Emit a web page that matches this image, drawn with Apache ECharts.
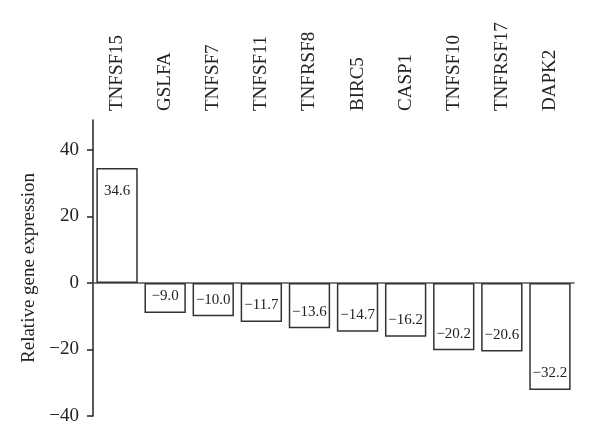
<!DOCTYPE html>
<html><head><meta charset="utf-8">
<script src="https://cdn.jsdelivr.net/npm/echarts@6/dist/echarts.min.js"></script>
<style>html,body{margin:0;padding:0;background:#fff}#c{width:600px;height:443px}</style>
</head><body><div id="c"></div>
<script>
const categories = ['TNFSF15','GSLFA','TNFSF7','TNFSF11','TNFRSF8','BIRC5','CASP1','TNFSF10','TNFRSF17','DAPK2'];
const values = [34.6, -9.0, -10.0, -11.7, -13.6, -14.7, -16.2, -20.2, -20.6, -32.2];
const yTicks = [-40, -20, 0, 20, 40];
const yName = 'Relative gene expression';

const font = '"Liberation Serif", "DejaVu Serif", serif';
const chart = echarts.init(document.getElementById('c'), null, {renderer: 'canvas'});
const data = values.map(v => ({
  value: v,
  label: v >= 0 ? {position: 'insideTop', distance: 16} : {position: 'insideBottom', distance: 9}
}));
chart.setOption({
  animation: false,
  grid: {left: 93, top: 120, width: 481, height: 296},
  xAxis: [{
    type: 'category', data: categories, position: 'top',
    axisLine: {show: false, onZero: false}, axisTick: {show: false},
    axisLabel: {rotate: -90, margin: 9, color: '#222', fontFamily: font, fontSize: 19, interval: 0}
  }, {
    type: 'category', data: categories, position: 'bottom',
    axisLine: {show: true, onZero: true, lineStyle: {color: '#555', width: 1.5}},
    axisTick: {show: false}, axisLabel: {show: false}
  }],
  yAxis: {
    type: 'value', min: -40, max: 49, interval: 20,
    name: yName, nameLocation: 'middle', nameGap: 53,
    nameTextStyle: {color: '#222', fontFamily: font, fontSize: 19},
    axisLine: {show: true, lineStyle: {color: '#222', width: 1.5}},
    axisTick: {show: true, length: 6, customValues: yTicks, lineStyle: {color: '#222', width: 1.5}},
    axisLabel: {customValues: yTicks, color: '#222', fontFamily: font, fontSize: 19, margin: 14,
      formatter: v => (v < 0 ? '\u2212' + Math.abs(v) : String(v))},
    splitLine: {show: false}
  },
  series: [{
    type: 'bar', data: data, xAxisIndex: 0, barCategoryGap: '14%',
    itemStyle: {color: '#fff', borderColor: '#333', borderWidth: 1.5},
    label: {show: true, color: '#222', fontFamily: font, fontSize: 15,
      formatter: p => (p.value < 0 ? '\u2212' + Math.abs(p.value).toFixed(1) : p.value.toFixed(1))}
  }]
});
</script></body></html>
